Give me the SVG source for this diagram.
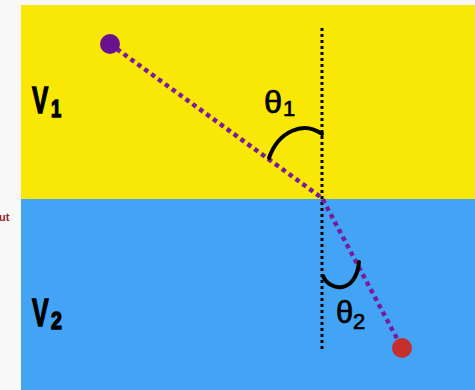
<svg xmlns="http://www.w3.org/2000/svg" width="475" height="390" viewBox="0 0 475 390">
<style>
.lbl{font-family:"Liberation Sans",Arial,sans-serif;font-weight:bold;fill:#000;stroke:#000;stroke-width:1.4}
.th{font-family:"Liberation Sans",Arial,sans-serif;fill:#000;stroke:#000;stroke-width:0.7}
.arc{fill:none;stroke:#000;stroke-width:4;stroke-linecap:round}
</style>
<rect x="0" y="0" width="475" height="390" fill="#f8f8f8"/>
<g id="medium1"><rect x="21" y="5" width="454" height="194" fill="#f9e805"/>
<text class="lbl" transform="translate(32,113) scale(0.66,1)" font-size="37">V</text>
<text class="lbl" x="51" y="117" font-size="23" transform="translate(51,0) scale(0.8,1) translate(-51,0)">1</text></g>
<g id="medium2"><rect x="21" y="199" width="454" height="191" fill="#43a4f5"/>
<text class="lbl" transform="translate(32,326) scale(0.64,1)" font-size="39">V</text>
<text class="lbl" x="51" y="329" font-size="23" transform="translate(51,0) scale(0.85,1) translate(-51,0)">2</text></g>
<text x="-1" y="221" font-family="Liberation Sans,Arial,sans-serif" font-weight="bold" font-size="11" fill="#9b1c1c">ut</text>
<g id="connectors">
<line x1="322" y1="28" x2="322" y2="352" stroke="#000" stroke-width="3" stroke-dasharray="3 3"/>
<polyline points="110,44 322,198 402,348" fill="none" stroke="#7a1b9c" stroke-width="4.5" stroke-dasharray="4.5 4"/>
</g>
<g id="source"><circle cx="110" cy="44" r="10" fill="#6a1190"/></g>
<g id="target"><circle cx="402" cy="348" r="10" fill="#c6302c"/></g>
<g id="angle1"><path class="arc" d="M269,158 C278,132 303,120 322,134"/>
<text class="th" transform="translate(264,113) scale(1.05,1)" font-size="31">θ</text>
<text class="th" x="283" y="116" font-size="22">1</text></g>
<g id="angle2"><path class="arc" d="M323,276 C330,292 356,294 359,262"/>
<text class="th" transform="translate(336,323)" font-size="31">θ</text>
<text class="th" x="353" y="329" font-size="22">2</text></g>
</svg>
